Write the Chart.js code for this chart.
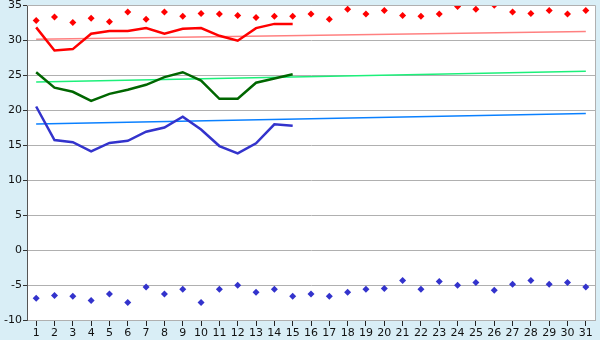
<!DOCTYPE html>
<html>
<head>
<meta charset="utf-8">
<script src="https://cdn.jsdelivr.net/npm/chart.js@4"></script>
<style>
    html, body { margin: 0; padding: 0; background: #d9eef6; }
    #wrap { width: 600px; height: 340px; }
</style>
</head>
<body>
<div id="wrap"><canvas id="tempChart" width="600" height="340"></canvas></div>
<script>
// days of the month
var days = [];
for (var d = 1; d <= 31; d++) days.push(String(d));

var yTicks = [35, 30, 25, 20, 15, 10, 5, 0, -5, -10];

// record highs (red diamonds)
var recordHigh = [32.8, 33.3, 32.5, 33.1, 32.6, 34.0, 32.95, 34.0, 33.4, 33.8,
    33.7, 33.5, 33.2, 33.4, 33.4, 33.7, 32.95, 34.4, 33.7, 34.2,
    33.5, 33.4, 33.7, 34.8, 34.4, 34.95, 34.0, 33.8, 34.2, 33.7, 34.2];

// daily max (red line), days 1-15
var dailyMax = [31.8, 28.5, 28.7, 30.9, 31.3, 31.3, 31.7, 30.9, 31.6, 31.7,
    30.6, 29.9, 31.7, 32.3, 32.3];

// daily mean (green line)
var dailyMean = [25.4, 23.2, 22.6, 21.3, 22.3, 22.9, 23.6, 24.7, 25.4, 24.2,
    21.6, 21.6, 23.9, 24.5, 25.1];

// daily min (blue line)
var dailyMin = [20.5, 15.7, 15.4, 14.1, 15.3, 15.6, 16.9, 17.5, 19.05, 17.2,
    14.85, 13.8, 15.25, 17.95, 17.75];

// normal values, start and end of month
var normalMax = [30.1, 31.2];
var normalMean = [24.0, 25.55];
var normalMin = [18.0, 19.5];

// record lows (blue diamonds)
var recordLow = [-6.9, -6.5, -6.6, -7.2, -6.3, -7.5, -5.3, -6.3, -5.6, -7.5,
    -5.6, -5.05, -6.05, -5.6, -6.6, -6.3, -6.6, -6.05, -5.6, -5.5,
    -4.35, -5.6, -4.5, -5.05, -4.65, -5.75, -4.9, -4.35, -4.9, -4.65, -5.3];

function endsOnly(pair) {
    var arr = days.map(function () { return null; });
    arr[0] = pair[0];
    arr[arr.length - 1] = pair[1];
    return arr;
}

// white plot area + frame
var plotFrame = {
    id: 'plotFrame',
    beforeDraw: function (chart) {
        var a = chart.chartArea, c = chart.ctx;
        c.save();
        c.fillStyle = '#ffffff';
        c.fillRect(a.left, a.top, a.right - a.left, a.bottom - a.top);
        c.restore();
    },
    afterDatasetsDraw: function (chart) {
        var a = chart.chartArea, c = chart.ctx;
        c.save();
        c.strokeStyle = '#b0b0b0';
        c.lineWidth = 1;
        c.beginPath();
        c.moveTo(a.left, a.top + 0.5);
        c.lineTo(a.right + 0.5, a.top + 0.5);
        c.lineTo(a.right + 0.5, a.bottom);
        c.stroke();
        c.restore();
    }
};

function lineSet(data, color, width, order) {
    return {
        data: data,
        borderColor: color,
        backgroundColor: color,
        borderWidth: width,
        pointRadius: 0,
        tension: 0,
        spanGaps: true,
        fill: false,
        order: order
    };
}

function dotSet(data, color) {
    return {
        data: data,
        showLine: false,
        pointStyle: 'rectRot',
        pointRadius: 3.5,
        pointBorderWidth: 0,
        pointBackgroundColor: color,
        borderColor: color,
        backgroundColor: color
    };
}

var ctx = document.getElementById('tempChart').getContext('2d');

new Chart(ctx, {
    type: 'line',
    data: {
        labels: days,
        datasets: [
            lineSet(endsOnly(normalMax), '#ff8080', 1.5, 5),
            lineSet(endsOnly(normalMean), '#1cf07a', 1.5, 5),
            lineSet(endsOnly(normalMin), '#0a80ff', 1.5, 5),
            lineSet(dailyMax, '#ff0000', 2.5, 1),
            lineSet(dailyMean, '#006600', 2.5, 1),
            lineSet(dailyMin, '#3333cc', 2.5, 1),
            dotSet(recordHigh, '#ff0000'),
            dotSet(recordLow, '#3333cc')
        ]
    },
    plugins: [plotFrame],
    options: {
        responsive: false,
        animation: false,
        layout: { padding: { top: 5, right: 5, left: 0, bottom: 0 } },
        plugins: {
            legend: { display: false },
            tooltip: { enabled: false }
        },
        scales: {
            x: {
                type: 'category',
                offset: true,
                grid: {
                    offset: false,
                    drawOnChartArea: false,
                    drawTicks: true,
                    tickLength: 6,
                    color: '#222222'
                },
                border: { display: true, color: '#b0b0b0' },
                ticks: {
                    autoSkip: false,
                    maxRotation: 0,
                    padding: 1,
                    color: '#111111',
                    font: { family: 'DejaVu Sans', size: 11 }
                },
                afterFit: function (scale) { scale.height = 20; }
            },
            y: {
                min: -10,
                max: 35,
                afterBuildTicks: function (scale) {
                    scale.ticks = yTicks.map(function (v) { return { value: v }; });
                },
                grid: {
                    color: '#b0b0b0',
                    tickColor: '#333333',
                    tickLength: 4,
                    drawTicks: true
                },
                border: { display: true, color: '#555555' },
                ticks: {
                    padding: 1,
                    color: '#111111',
                    font: { family: 'DejaVu Sans', size: 11 }
                },
                afterFit: function (scale) {
                    scale.width = 27;
                    scale.paddingTop = 0;
                    scale.paddingBottom = 0;
                }
            }
        }
    }
});
</script>
</body>
</html>
